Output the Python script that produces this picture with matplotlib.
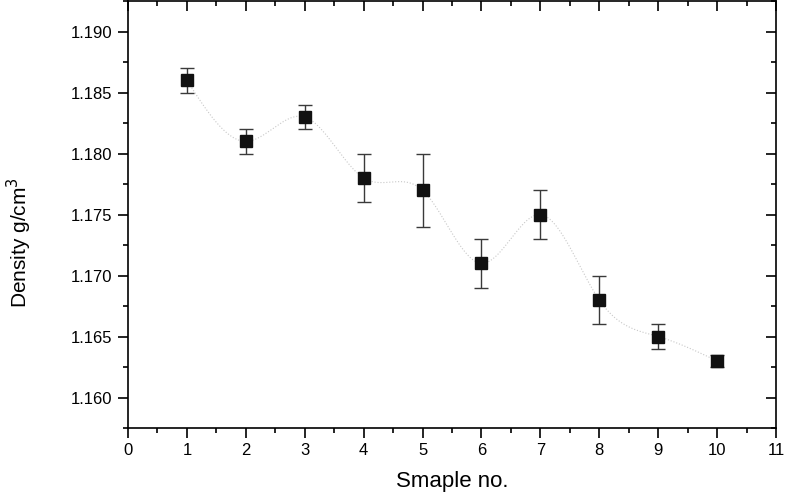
import numpy as np
import matplotlib
matplotlib.use("Agg")
import matplotlib.pyplot as plt
from matplotlib.ticker import MultipleLocator, FormatStrFormatter

plt.rcParams['font.family'] = ['Liberation Sans', 'DejaVu Sans']

# data
sample_no = [1, 2, 3, 4, 5, 6, 7, 8, 9, 10]
density = [1.186, 1.181, 1.183, 1.178, 1.177, 1.171, 1.175, 1.168, 1.165, 1.163]
density_err = [0.001, 0.001, 0.001, 0.002, 0.003, 0.002, 0.002, 0.002, 0.001, 0.0005]


def natural_spline(x, y, n=400):
    # plain natural cubic spline, numpy only
    x = np.asarray(x, float)
    y = np.asarray(y, float)
    k = len(x)
    h = np.diff(x)
    A = np.zeros((k, k))
    b = np.zeros(k)
    A[0, 0] = A[-1, -1] = 1
    for i in range(1, k - 1):
        A[i, i - 1] = h[i - 1]
        A[i, i] = 2 * (h[i - 1] + h[i])
        A[i, i + 1] = h[i]
        b[i] = 6 * ((y[i + 1] - y[i]) / h[i] - (y[i] - y[i - 1]) / h[i - 1])
    m = np.linalg.solve(A, b)
    xs = np.linspace(x[0], x[-1], n)
    idx = np.clip(np.searchsorted(x, xs) - 1, 0, k - 2)
    t = xs - x[idx]
    hi = h[idx]
    a = (m[idx + 1] - m[idx]) / (6 * hi)
    bb = m[idx] / 2
    c = (y[idx + 1] - y[idx]) / hi - hi * (2 * m[idx] + m[idx + 1]) / 6
    ys = y[idx] + c * t + bb * t ** 2 + a * t ** 3
    return xs, ys


fig = plt.figure(figsize=(7.87, 4.93), dpi=100)
ax = fig.add_axes([0.1626, 0.1318, 0.8234, 0.866])

xs, ys = natural_spline(sample_no, density)
ax.plot(xs, ys, color='#c8c8c8', lw=0.8, ls=':', zorder=1)

ax.errorbar(sample_no, density, yerr=density_err, fmt='s', color='#111111',
            ms=8, ecolor='#3a3a3a', elinewidth=1, capsize=5, capthick=1, zorder=3)

ax.set_xlim(0, 11)
ax.set_ylim(1.1575, 1.1925)
ax.xaxis.set_major_locator(MultipleLocator(1))
ax.xaxis.set_minor_locator(MultipleLocator(0.5))
ax.yaxis.set_major_locator(MultipleLocator(0.005))
ax.yaxis.set_minor_locator(MultipleLocator(0.0025))
ax.yaxis.set_major_formatter(FormatStrFormatter('%.3f'))

ax.tick_params(which='both', direction='out', top=False, right=False, width=1.2)
ax.tick_params(which='major', length=7, labelsize=12, pad=4)
ax.tick_params(which='minor', length=3.5)

# inward ticks on the top and right, no labels
ax2 = ax.secondary_xaxis('top')
ax2.xaxis.set_major_locator(MultipleLocator(1))
ax2.xaxis.set_minor_locator(MultipleLocator(0.5))
ax2.tick_params(which='both', direction='in', labeltop=False, width=1.2)
ax2.tick_params(which='major', length=7)
ax2.tick_params(which='minor', length=3.5)
ay2 = ax.secondary_yaxis('right')
ay2.yaxis.set_major_locator(MultipleLocator(0.005))
ay2.yaxis.set_minor_locator(MultipleLocator(0.0025))
ay2.tick_params(which='both', direction='in', labelright=False, width=1.2)
ay2.tick_params(which='major', length=7)
ay2.tick_params(which='minor', length=3.5)

for s in ax.spines.values():
    s.set_linewidth(1.2)
ax2.spines['top'].set_visible(False)
ay2.spines['right'].set_visible(False)

ax.set_xlabel('Smaple no.', fontsize=16, labelpad=9)
ax.set_ylabel('Density g/cm$^3$', fontsize=15)
ax.yaxis.set_label_coords(-0.145, 0.435)

fig.savefig('out.png', dpi=100)
